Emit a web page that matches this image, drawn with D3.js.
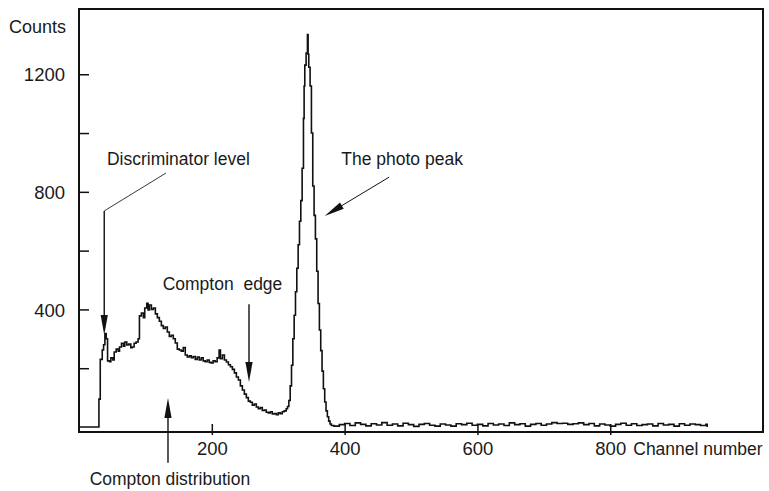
<!DOCTYPE html>
<html><head><meta charset="utf-8">
<script src="https://cdn.jsdelivr.net/npm/d3@7"></script>
<style>
html,body{margin:0;padding:0;background:#fff;}
svg{display:block;}
text{font-family:"Liberation Sans",Arial,Helvetica,sans-serif;fill:#1a1a1a;white-space:pre;}
</style></head><body>
<svg id="chart" width="769" height="491"></svg>
<script>
// ---- data (channel number, counts) ----
const channels = [0,30,32,35,37,39,41,43,46,48,51,53,56,59,61,64,67,69,72,75,78,80,83,86,89,91,94,97,99,102,104,106,109,112,115,118,121,124,127,130,133,136,139,142,145,148,151,154,157,160,163,166,169,172,175,178,181,184,187,190,193,196,199,202,205,208,211,213,216,219,222,225,228,231,234,237,240,243,246,249,252,255,258,261,264,267,270,273,276,279,282,285,288,291,294,297,300,303,306,309,312,314,316,318,320,322,324,326,328,330,332,334,336,338,339,340,342,344,345,346,348,350,352,354,356,358,360,362,364,366,368,370,372,374,376,378,380];
const counts   = [0,95,230,262,280,318,300,225,222,235,228,255,265,258,272,285,275,289,279,282,270,272,285,289,300,378,388,372,405,421,398,415,400,405,385,372,360,345,335,340,323,308,312,300,286,265,262,258,270,245,238,242,236,240,230,238,228,235,225,222,228,220,218,225,222,235,262,232,245,228,221,212,205,196,184,170,160,140,126,112,100,88,84,74,78,68,62,66,56,58,50,48,52,44,46,42,48,45,52,55,62,70,90,140,210,300,380,460,540,620,700,770,880,1050,1160,1231,1272,1335,1268,1224,1160,1000,820,720,640,530,420,330,260,190,130,85,55,35,20,10,5];
const tailChannels = [384,392,400,408,416,424,432,440,448,456,464,472,480,488,496,504,512,520,528,536,544,552,560,568,576,584,592,600,608,616,624,632,640,648,656,664,672,680,688,696,704,712,720,728,736,744,752,760,768,776,784,792,800,808,816,824,832,840,848,856,864,872,880,888,896,904,912,920,928,936,944,946];
const tailCounts   = [3,8,12,5,14,9,4,11,7,15,6,10,4,13,8,2,9,12,6,3,10,7,3,11,8,13,6,9,4,12,7,10,5,14,8,11,3,9,12,6,10,15,12,13,9,11,14,8,12,4,10,7,3,9,13,6,11,5,8,10,4,12,7,9,3,11,6,10,8,5,9,0];

// ---- axes ----
const xDomain = [0, 1030];
const yDomain = [-17, 1422];
const xTickValues = [200, 400, 600, 800];
const yTickValues = [200, 400, 600, 800, 1000, 1200];
const yTickLabelled = [400, 800, 1200];
const yTitle = "Counts";
const xTitle = "Channel number";

// ---- annotations (data coordinates: channel, counts) ----
const noteTexts = ["Discriminator level", "Compton  edge", "Compton distribution", "The photo peak"];
const noteAnchors = [[42, 891], [126, 466], [16, -197], [395, 891]];
const leaderLines = [[[131, 864], [38, 735]]];
const arrowFrom = [[38, 735], [256, 418], [134, -122], [467, 850]];
const arrowTip  = [[38, 313], [256, 153], [134, 99], [370, 718]];
const arrowWidth = [1.4, 1.4, 1.4, 1];

const svg = d3.select("#chart");
const L = 79, R = 763, T = 9, B = 432;
const x = d3.scaleLinear().domain(xDomain).range([L, R]);
const y = d3.scaleLinear().domain(yDomain).range([B, T]);

// histogram
const pts = channels.map((c, i) => [c, counts[i]])
  .concat(tailChannels.map((c, i) => [c, tailCounts[i]]));
const line = d3.line().x(d => x(d[0])).y(d => y(d[1])).curve(d3.curveStepAfter);
svg.append("path").datum(pts).attr("d", line)
  .attr("fill", "none").attr("stroke", "#111").attr("stroke-width", 1.6)
  .attr("stroke-linejoin", "miter");

// y axis
const yAxis = d3.axisLeft(y).tickValues(yTickValues).tickSize(-10).tickPadding(14)
  .tickFormat(d => yTickLabelled.includes(d) ? String(d) : "");
const gy = svg.append("g").attr("transform", `translate(${L},0)`).call(yAxis);
gy.select(".domain").remove();
gy.selectAll(".tick line").attr("stroke", "#111").attr("stroke-width", 1.5);
gy.selectAll(".tick text").attr("font-size", 18.5).attr("font-family", null).attr("dy", "0.36em");
gy.attr("font-family", null).attr("font-size", null);

// x axis
const xAxis = d3.axisBottom(x).tickValues(xTickValues).tickSize(3).tickFormat(d => String(d));
const gx = svg.append("g").attr("transform", `translate(0,${B})`).call(xAxis);
gx.select(".domain").remove();
gx.selectAll(".tick line").attr("y1", -8).attr("stroke", "#111").attr("stroke-width", 1.5);
gx.selectAll(".tick text").attr("y", 23).attr("dy", null).attr("font-size", 18.5);
gx.attr("font-family", null).attr("font-size", null);

// frame
svg.append("rect").attr("x", L).attr("y", T).attr("width", R - L).attr("height", B - T)
  .attr("fill", "none").attr("stroke", "#111").attr("stroke-width", 2);

// titles
svg.append("text").attr("x", L - 13).attr("y", 33).attr("text-anchor", "end")
  .attr("font-size", 18).text(yTitle);
svg.append("text").attr("x", x(xTickValues[3]) + 23).attr("y", B + 23)
  .attr("font-size", 17.5).text(xTitle);

// annotation texts
noteTexts.forEach((t, i) => {
  svg.append("text").attr("x", x(noteAnchors[i][0])).attr("y", y(noteAnchors[i][1]))
    .attr("font-size", 17.5).text(t);
});
// leader lines
leaderLines.forEach(l => {
  svg.append("line").attr("x1", x(l[0][0])).attr("y1", y(l[0][1]))
    .attr("x2", x(l[1][0])).attr("y2", y(l[1][1]))
    .attr("stroke", "#222").attr("stroke-width", 0.9);
});
// arrows
arrowFrom.forEach((f, i) => {
  const x0 = x(f[0]), y0 = y(f[1]), x1 = x(arrowTip[i][0]), y1 = y(arrowTip[i][1]);
  const dx = x1 - x0, dy = y1 - y0, len = Math.hypot(dx, dy);
  const ux = dx / len, uy = dy / len, nx = -uy, ny = ux;
  const hl = 20, hw = 3.6;
  const bx = x1 - ux * hl, by = y1 - uy * hl;
  svg.append("line").attr("x1", x0).attr("y1", y0).attr("x2", bx + ux * 2).attr("y2", by + uy * 2)
    .attr("stroke", "#111").attr("stroke-width", arrowWidth[i]);
  svg.append("path")
    .attr("d", `M${x1},${y1}L${bx + nx * hw},${by + ny * hw}L${bx - nx * hw},${by - ny * hw}Z`)
    .attr("fill", "#111");
});
</script>
</body></html>
